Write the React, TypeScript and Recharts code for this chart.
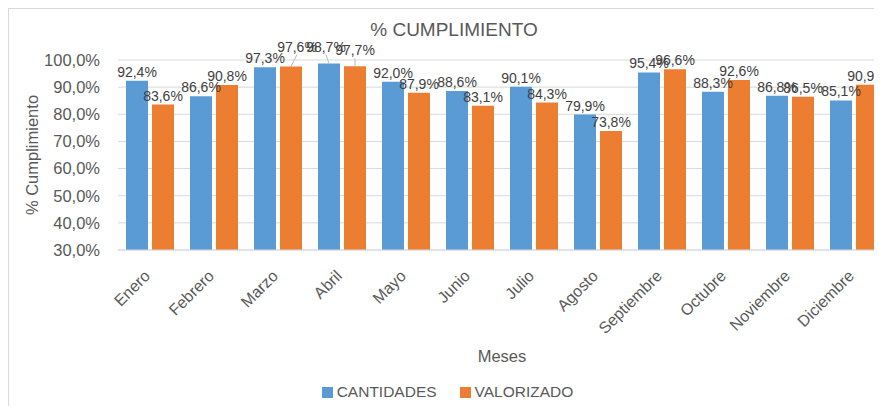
import React from 'react';
import { BarChart, Bar, XAxis, YAxis, CartesianGrid, LabelList, Legend } from 'recharts';

const months = ['Enero', 'Febrero', 'Marzo', 'Abril', 'Mayo', 'Junio', 'Julio', 'Agosto', 'Septiembre', 'Octubre', 'Noviembre', 'Diciembre'];
const cantidades = [92.4, 86.6, 97.3, 98.7, 92.0, 88.6, 90.1, 79.9, 95.4, 88.3, 86.8, 85.1];
const valorizado = [83.6, 90.8, 97.6, 97.7, 87.9, 83.1, 84.3, 73.8, 96.6, 92.6, 86.5, 90.9];
const yTicks = [30, 40, 50, 60, 70, 80, 90, 100];
const seriesNames = ['CANTIDADES', 'VALORIZADO'];
const seriesColors = ['#5B9BD5', '#ED7D31'];
const title = '% CUMPLIMIENTO';
const xTitle = 'Meses';
const yTitle = '% Cumplimiento';

// Manually moved data labels (with leader lines), as in the reference: [dx, dy]
const labelShift: Record<string, [number, number]> = {
  'valorizado-2': [6, -11],
  'cantidades-3': [-3, -8],
  'valorizado-3': [0, -7],
};

const data = months.map((m, i) => ({ mes: m, cantidades: cantidades[i], valorizado: valorizado[i] }));

const fmt = (v: any) => Number(v).toFixed(1).replace('.', ',') + '%';

const makeLabel = (key: string) => (props: any) => {
  const { x, y, width, value, index } = props;
  const cx = Number(x) + Number(width) / 2;
  const top = Number(y);
  const shift = labelShift[`${key}-${index}`];
  const dx = shift ? shift[0] : 0;
  const dy = shift ? shift[1] : 0;
  const by = top - 4 + dy;
  return (
    <g>
      {shift && (
        <line x1={cx} y1={top} x2={cx + dx} y2={by + 3} stroke="#A6A6A6" strokeWidth={0.75} />
      )}
      <text x={cx + dx} y={by} textAnchor="middle" fill="#404040" fontSize={14}>
        {fmt(value)}
      </text>
    </g>
  );
};

const XTick = (props: any) => {
  const { x, y, payload } = props;
  return (
    <g transform={`translate(${x + 1},${y + 27})`}>
      <text transform="rotate(-45)" textAnchor="end" fill="#595959" fontSize={16}>
        {payload.value}
      </text>
    </g>
  );
};

const LegendContent = () => (
  <div style={{ display: 'flex', justifyContent: 'center', alignItems: 'center', height: 30, fontSize: 15.5, color: '#595959' }}>
    {seriesNames.map((n, i) => (
      <div key={n} style={{ display: 'flex', alignItems: 'center', marginRight: i === 0 ? 23 : 0 }}>
        <span style={{ display: 'inline-block', width: 11, height: 11, background: seriesColors[i], marginRight: 4 }} />
        <span>{n}</span>
      </div>
    ))}
  </div>
);

export default function App() {
  return (
    <div style={{ position: 'relative', width: 890, height: 398, border: '1px solid #D9D9D9', overflow: 'hidden', fontFamily: '"Liberation Sans", Arial, sans-serif', background: '#fff' }}>
      <style>{'html,body{overflow:hidden}'}</style>
      <div style={{ position: 'absolute', top: 11, left: 0, width: 890, textAlign: 'center', fontSize: 19, lineHeight: '20px', color: '#595959' }}>{title}</div>
      <BarChart width={890} height={398} data={data} margin={{ top: 51, right: 13, left: 0, bottom: 0 }} barSize={22} barGap={4}>
        <CartesianGrid vertical={false} stroke="#D9D9D9" />
        <YAxis
          domain={[30, 100]}
          ticks={yTicks}
          width={109}
          axisLine={false}
          tickLine={false}
          tickSize={0}
          tickMargin={18}
          tickFormatter={fmt}
          tick={{ fill: '#595959', fontSize: 16.5 }}
          label={(p: any) => {
            const vb = p.viewBox || {};
            const cy = (vb.y ?? 51) + (vb.height ?? 190) / 2;
            return (
              <text x={23} y={cy} transform={`rotate(-90 23 ${cy})`} textAnchor="middle" dominantBaseline="central" fill="#595959" fontSize={16.5}>
                {yTitle}
              </text>
            );
          }}
        />
        <XAxis
          dataKey="mes"
          height={127}
          interval={0}
          tickLine={false}
          tickSize={0}
          tickMargin={0}
          axisLine={{ stroke: '#D9D9D9' }}
          tick={<XTick />}
          label={(p: any) => {
            const vb = p.viewBox || {};
            return (
              <text x={(vb.x ?? 109) + (vb.width ?? 768) / 2} y={(vb.y ?? 241) + 112} textAnchor="middle" fill="#595959" fontSize={16.5}>
                {xTitle}
              </text>
            );
          }}
        />
        <Legend verticalAlign="bottom" content={<LegendContent />} />
        <Bar dataKey="cantidades" name={seriesNames[0]} fill={seriesColors[0]} isAnimationActive={false}>
          <LabelList dataKey="cantidades" content={makeLabel('cantidades')} />
        </Bar>
        <Bar dataKey="valorizado" name={seriesNames[1]} fill={seriesColors[1]} isAnimationActive={false}>
          <LabelList dataKey="valorizado" content={makeLabel('valorizado')} />
        </Bar>
      </BarChart>
    </div>
  );
}
